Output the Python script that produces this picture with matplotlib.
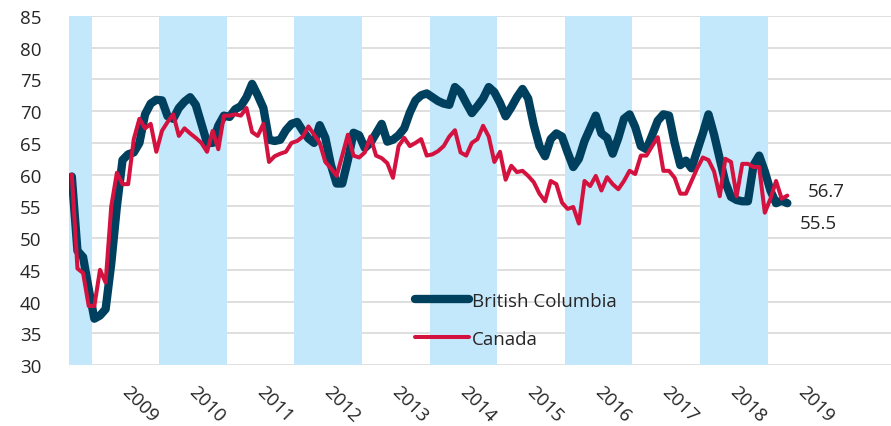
import matplotlib
matplotlib.use("Agg")
import matplotlib.pyplot as plt
import matplotlib.transforms as mtransforms
import numpy as np

plt.rcParams['font.family'] = ['Open Sans', 'DejaVu Sans']

# Monthly index readings, September 2008 to April 2019
bc_values = [
    59.7, 48.0, 47.0, 42.0,                                               # 2008 Sep-Dec
    37.3, 37.8, 38.8, 46.0, 55.0, 62.3, 63.2, 63.5, 65.0, 69.5, 71.2, 71.8,  # 2009
    71.7, 69.2, 68.8, 70.5, 71.5, 72.2, 71.0, 68.0, 65.0, 65.0, 67.7, 69.3,  # 2010
    69.1, 70.3, 70.8, 72.2, 74.3, 72.5, 70.5, 65.5, 65.3, 65.5, 67.0, 68.0,  # 2011
    68.3, 66.9, 65.7, 65.0, 67.8, 65.8, 61.5, 58.6, 58.6, 62.3, 66.6, 66.2,  # 2012
    64.2, 65.0, 66.5, 68.0, 65.2, 65.5, 66.2, 67.3, 69.8, 71.7, 72.5, 72.8,  # 2013
    72.2, 71.6, 71.2, 71.0, 73.8, 73.0, 71.3, 69.7, 70.8, 72.0, 73.8, 73.0,  # 2014
    71.3, 69.2, 70.6, 72.2, 73.5, 72.0, 67.8, 64.5, 62.9, 65.6, 66.5, 66.0,  # 2015
    63.5, 61.2, 62.5, 65.3, 67.3, 69.3, 66.5, 65.8, 63.3, 65.8, 68.8, 69.5,  # 2016
    67.5, 64.5, 64.0, 66.2, 68.5, 69.5, 69.3, 65.0, 61.5, 62.2, 61.0, 63.8,  # 2017
    66.5, 69.5, 66.3, 62.5, 58.8, 56.5, 56.0, 55.8, 55.8, 61.5, 63.0, 60.5,  # 2018
    57.5, 55.5, 55.9, 55.5,                                               # 2019 Jan-Apr
]
canada_values = [
    60.0, 45.2, 44.5, 39.3,
    39.3, 45.0, 43.0, 55.0, 60.3, 58.5, 58.5, 65.6, 68.8, 67.3, 68.0, 63.6,
    66.9, 68.3, 69.5, 66.1, 67.3, 66.5, 65.8, 65.0, 63.6, 66.9, 64.0, 69.3,
    69.3, 69.5, 69.3, 70.5, 66.7, 66.1, 68.0, 62.0, 62.9, 63.3, 63.6, 65.0,
    65.3, 66.0, 67.6, 66.3, 65.0, 62.0, 61.0, 59.8, 63.0, 66.3, 63.0, 62.7,
    63.5, 66.0, 63.0, 62.6, 61.8, 59.5, 64.5, 65.8, 64.5, 65.0, 65.6, 63.0,
    63.2, 63.7, 64.5, 66.0, 67.0, 63.5, 63.0, 65.0, 65.6, 67.7, 66.0, 62.0,
    63.6, 59.2, 61.4, 60.4, 60.6, 59.8, 58.8, 57.0, 55.8, 59.0, 58.5, 55.6,
    54.6, 54.9, 52.3, 59.0, 58.2, 59.8, 57.5, 59.6, 58.5, 57.7, 59.0, 60.6,
    60.1, 63.0, 63.0, 64.5, 65.9, 60.6, 60.6, 59.5, 57.0, 57.0, 59.0, 61.0,
    62.7, 62.3, 60.5, 56.6, 62.5, 62.0, 56.6, 61.7, 61.7, 61.2, 61.2, 54.0,
    56.2, 59.0, 56.2, 56.7,
]
series_names = ["British Columbia", "Canada"]
year_labels = [str(y) for y in range(2009, 2020)]
shaded_years = [2008, 2010, 2012, 2014, 2016, 2018]
first_year, first_month = 2008, 9
y_ticks = list(range(30, 90, 5))

NAVY = "#00405f"
CRIMSON = "#d4123f"
BAND = "#c4e8fb"
GRID = "#d9d9d9"
TEXT = "#262626"

def month_pos(year, month):
    """Category position of a calendar month (0 = first data month)."""
    return (year - first_year) * 12 + (month - first_month)

x = np.arange(len(bc_values))

fig = plt.figure(figsize=(8.91, 4.27), dpi=100)
ax = fig.add_axes([69 / 891, 61 / 427, 822 / 891, 349 / 427])

# alternating year bands
for yr in shaded_years:
    start = max(month_pos(yr, 1), 0) - 0.5
    end = month_pos(yr, 12) + 0.5
    ax.axvspan(start, end, color=BAND, lw=0, zorder=1)

ax.plot(x, bc_values, color=NAVY, lw=6.0, solid_capstyle="round",
        solid_joinstyle="round", zorder=3, label=series_names[0])
ax.plot(x, canada_values, color=CRIMSON, lw=2.9, solid_capstyle="round",
        solid_joinstyle="round", zorder=4, label=series_names[1])

ax.set_xlim(-0.5, 145.4)
ax.set_ylim(30, 85)
ax.set_yticks(y_ticks)
ax.yaxis.grid(True, color=GRID, lw=1.2, zorder=0)
ax.set_axisbelow(True)
ax.tick_params(axis="y", length=0, pad=20, labelsize=13.5, labelcolor=TEXT)
ax.set_xticks([])
for s in ax.spines.values():
    s.set_visible(False)

# rotated year labels under each year's span
offset = mtransforms.ScaledTranslation(0.14, -0.385, fig.dpi_scale_trans)
trans = ax.get_xaxis_transform() + offset
for lbl in year_labels:
    yr = int(lbl)
    centre = month_pos(yr, 6) + 0.5
    ax.text(centre, 0, lbl, transform=trans, rotation=-45,
            rotation_mode="anchor", ha="center", va="center",
            fontsize=13.5, color=TEXT)

# last-value labels
ax.annotate(f"{canada_values[-1]:.1f}", (x[-1], canada_values[-1]),
            xytext=(15, 3), textcoords="offset points", ha="left",
            va="center", fontsize=13.5, color=TEXT)
ax.annotate(f"{bc_values[-1]:.1f}", (x[-1], bc_values[-1]),
            xytext=(9, -14), textcoords="offset points", ha="left",
            va="center", fontsize=13.5, color=TEXT)

leg = ax.legend(loc="upper left", bbox_to_anchor=(338 / 822, 0.232),
                frameon=False, fontsize=13.5, handlelength=2.9,
                handletextpad=0.15, labelspacing=1.08, borderaxespad=0)
for t in leg.get_texts():
    t.set_color(TEXT)

fig.savefig("out.png", dpi=100, facecolor="white")
